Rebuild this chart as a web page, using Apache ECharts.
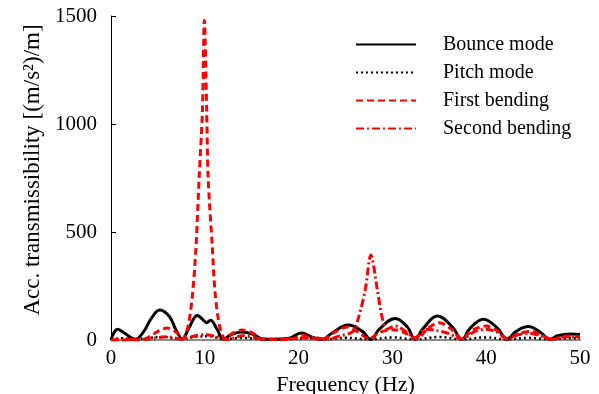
<!DOCTYPE html>
<html>
<head>
<meta charset="utf-8">
<script src="https://cdn.jsdelivr.net/npm/echarts@6/dist/echarts.min.js"></script>
<style>
  html, body { margin: 0; padding: 0; background: #fff; }
  #chart { width: 599px; height: 394px; }
</style>
</head>
<body>
<div id="chart"></div>
<script>
const SERIES_NAMES = ['Bounce mode', 'Pitch mode', 'First bending', 'Second bending'];
const X_TICKS = [0, 10, 20, 30, 40, 50];
const Y_TICKS = [0, 500, 1000, 1500];

// bounce mode (solid black)
const bounceF = [0, 0.7, 1.5, 2.6, 3.5, 4.3, 5.2, 6.2, 7.0, 7.6, 8.3, 9.2, 9.9, 10.2, 10.6, 11.3, 12.0, 12.8, 14.0, 15.2, 16.2, 17.5, 19.0, 20.3, 21.5, 22.5, 23.5, 25.3, 26.8, 27.7, 28.6, 30.3, 31.6, 32.4, 33.3, 34.8, 36.4, 37.4, 38.3, 39.7, 41.2, 42.2, 43.2, 44.5, 45.8, 46.8, 47.6, 49.0, 50.0];
const bounceV = [0, 50, 30, 3, 40, 100, 139, 110, 40, 5, 55, 114, 90, 80, 92, 50, 3, 25, 37, 25, 5, 3, 8, 32, 12, 3, 30, 69, 40, 3, 50, 100, 60, 3, 55, 111, 60, 3, 55, 96, 55, 3, 40, 62, 35, 3, 20, 28, 25];

// pitch mode (dotted black)
const pitchF = [0, 1, 2.5, 4, 5.5, 7.5, 9, 10.5, 12, 14, 16, 19, 21, 23, 25, 27.5, 30, 32.4, 35, 37.4, 40, 42.2, 44.5, 46.8, 49, 50];
const pitchV = [0, 8, 3, 10, 14, 3, 15, 17, 5, 10, 4, 5, 8, 4, 10, 3, 12, 3, 14, 3, 12, 3, 10, 3, 8, 8];

// first bending (dashed red)
const firstF = [0, 2, 3.6, 4.6, 6.0, 7.0, 7.6, 8.2, 8.7, 9.06, 9.4, 9.75, 9.95, 10.2, 10.35, 10.8, 11.1, 11.6, 12.2, 12.9, 14.0, 15.2, 16.0, 17.5, 19.3, 20.4, 21.3, 22.5, 23.8, 25.2, 26.4, 27.5, 28.6, 30.2, 31.5, 32.6, 33.8, 35.0, 36.3, 37.4, 38.5, 40.0, 41.3, 42.3, 43.5, 44.8, 46.0, 47.0, 48.5, 50.0];
const firstV = [0, 0, 3, 30, 55, 35, 3, 60, 217, 430, 755, 1065, 1480, 1065, 755, 430, 217, 60, 3, 30, 46, 30, 5, 3, 5, 23, 10, 3, 35, 60, 35, 5, 35, 48, 30, 5, 55, 80, 50, 5, 45, 65, 40, 5, 30, 40, 20, 3, 18, 15];

// second bending (dash-dot red)
const secondF = [0, 2, 4, 6, 7.6, 9, 10, 11, 12.5, 14, 16, 18, 20, 21.5, 23, 24.5, 25.8, 26.4, 27.1, 27.7, 28.4, 28.9, 29.4, 30.3, 31.4, 32.4, 33.5, 34.6, 36, 37.4, 38.8, 40, 41.2, 42.2, 43.5, 44.8, 46, 47, 48.5, 50];
const secondV = [0, 2, 5, 15, 3, 20, 25, 18, 3, 20, 5, 2, 10, 12, 3, 20, 40, 106, 231, 394, 231, 106, 50, 65, 40, 10, 50, 45, 30, 5, 40, 50, 35, 5, 25, 30, 15, 3, 15, 12];

const zip = (xs, ys) => xs.map((x, i) => [x, ys[i]]);

const FONT = "'Liberation Serif', 'Times New Roman', serif";

const chart = echarts.init(document.getElementById('chart'), null, { renderer: 'canvas' });

chart.setOption({
  backgroundColor: '#fff',
  animation: false,
  textStyle: { fontFamily: FONT, color: '#000' },
  grid: { left: 111, right: 19, top: 16, bottom: 54, outerBoundsMode: 'none', containLabel: false },
  legend: {
    data: SERIES_NAMES,
    orient: 'vertical',
    left: 350,
    top: 28,
    itemWidth: 60,
    itemHeight: 14,
    itemGap: 5,
    itemStyle: { opacity: 0 },
    textStyle: { fontFamily: FONT, fontSize: 20, color: '#000', lineHeight: 23, padding: [0, 0, 0, 22] },
  },
  xAxis: {
    type: 'value',
    min: X_TICKS[0],
    max: X_TICKS[X_TICKS.length - 1],
    interval: 10,
    name: 'Frequency (Hz)',
    nameLocation: 'middle',
    nameGap: 30,
    nameTextStyle: { fontFamily: FONT, fontSize: 22, color: '#000' },
    axisLine: { lineStyle: { color: '#8c8c8c', width: 2 } },
    axisTick: { show: false },
    axisLabel: { fontFamily: FONT, fontSize: 21, color: '#000', margin: 8 },
    splitLine: { show: false },
  },
  yAxis: {
    type: 'value',
    min: Y_TICKS[0],
    max: Y_TICKS[Y_TICKS.length - 1],
    interval: 500,
    name: 'Acc. transmissibility [(m/s²)/m]',
    nameLocation: 'middle',
    nameGap: 59,
    nameTextStyle: { fontFamily: FONT, fontSize: 23, color: '#000', padding: [0, 0, 0, 16] },
    axisLine: { show: true, lineStyle: { color: '#000', width: 1 } },
    axisTick: { show: true, inside: true, length: 5, lineStyle: { color: '#000' } },
    axisLabel: { fontFamily: FONT, fontSize: 21, color: '#000', margin: 14, formatter: v => String(v) },
    splitLine: { show: false },
  },
  series: [
    {
      name: SERIES_NAMES[0], type: 'line', data: zip(bounceF, bounceV),
      showSymbol: false, symbol: 'none', smooth: 0.4, color: '#000',
      lineStyle: { color: '#000', width: 3, type: 'solid' }, z: 4,
    },
    {
      name: SERIES_NAMES[1], type: 'line', data: zip(pitchF, pitchV),
      showSymbol: false, symbol: 'none', smooth: 0.4, color: '#000',
      lineStyle: { color: '#000', width: 2.5, type: [2, 3] }, z: 3,
    },
    {
      name: SERIES_NAMES[2], type: 'line', data: zip(firstF, firstV),
      showSymbol: false, symbol: 'none', smooth: 0.3, color: '#ff0000',
      lineStyle: { color: '#ff0000', width: 3, type: [7, 4] }, z: 5,
    },
    {
      name: SERIES_NAMES[3], type: 'line', data: zip(secondF, secondV),
      showSymbol: false, symbol: 'none', smooth: 0.3, color: '#ff0000',
      lineStyle: { color: '#ff0000', width: 3, type: [8, 3, 2, 3] }, z: 5,
    },
  ],
});
</script>
</body>
</html>
